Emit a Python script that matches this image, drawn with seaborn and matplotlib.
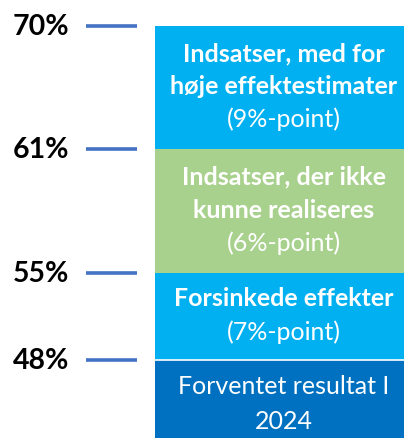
import numpy as np
import pandas as pd
import matplotlib
matplotlib.use("Agg")
import matplotlib.pyplot as plt
import seaborn as sns

# ---- data ----
segments = ["Forventet resultat I 2024", "Forsinkede effekter",
            "Indsatser, der ikke kunne realiseres",
            "Indsatser, med for høje effektestimater"]
values = [48, 7, 6, 9]
bold_lines = [[], ["Forsinkede effekter"],
              ["Indsatser, der ikke", "kunne realiseres"],
              ["Indsatser, med for", "høje effektestimater"]]
normal_lines = [["Forventet resultat I", "2024"], ["(7%-point)"],
                ["(6%-point)"], ["(9%-point)"]]
level_labels = ["48%", "55%", "61%", "70%"]
colors = ["#0070C0", "#00B0F0", "#A9D18E", "#00B0F0"]

cum = np.cumsum(values)

sns.set_style("white")
plt.rcParams["font.family"] = ["Lato", "DejaVu Sans"]

W, H = 404, 439
fig = plt.figure(figsize=(W / 100, H / 100), dpi=100)
ax = fig.add_axes([0, 0, 1, 1])

# non-uniform (schematic) value scale, as in the reference
src = [-100, 0, 48, 55, 61, 70, 75, 200]
dst = [-100, 0, 78, 165, 289, 412, 439, 600]
fwd = lambda v: np.interp(v, src, dst)
inv = lambda p: np.interp(p, dst, src)
ax.set_yscale("function", functions=(fwd, inv))

df = pd.DataFrame({"cat": ["bar"] * len(cum), "level": cum, "seg": segments})
for i in reversed(range(len(cum))):
    sns.barplot(data=df.iloc[[i]], x="cat", y="level", color=colors[i],
                saturation=1, width=1, errorbar=None, linewidth=0, ax=ax)

ax.set_ylim(0, 75)
left = -0.5 - 155 / 249
ax.set_xlim(left, 0.5)
ax.axis("off")

# white separator between base and first stacked segment
ax.hlines(cum[0], -0.5, 0.5, color="white", lw=1.2)

# left level ticks and labels
ytr = ax.get_yaxis_transform()
for lvl, lab in zip(cum, level_labels):
    ax.plot([86 / W, 137 / W], [lvl, lvl], color="#4472C4", lw=2.6,
            transform=ytr, solid_capstyle="butt")
    ax.text(69 / W, lvl, lab, transform=ytr, ha="right", va="center",
            fontsize=20.5, fontweight="bold", color="black")

# segment labels
bottoms = np.concatenate([[0], cum[:-1]])
spacing = 33
extra = [-4, 2, 2, 2]
for i in range(len(values)):
    mid_px = (fwd(bottoms[i]) + fwd(cum[i])) / 2
    mid_val = inv(mid_px)
    lines = [(t, "bold") for t in bold_lines[i]] + [(t, "normal") for t in normal_lines[i]]
    n = len(lines)
    sp = spacing if i > 0 else 35
    for k, (t, wgt) in enumerate(lines):
        off = ((n - 1) / 2 - k) * sp + extra[i]
        ax.annotate(t, xy=(0, mid_val), xytext=(4, off), textcoords="offset pixels",
                    ha="center", va="center", fontsize=18, fontweight=wgt,
                    color="white")

fig.savefig("out.png", dpi=100)
